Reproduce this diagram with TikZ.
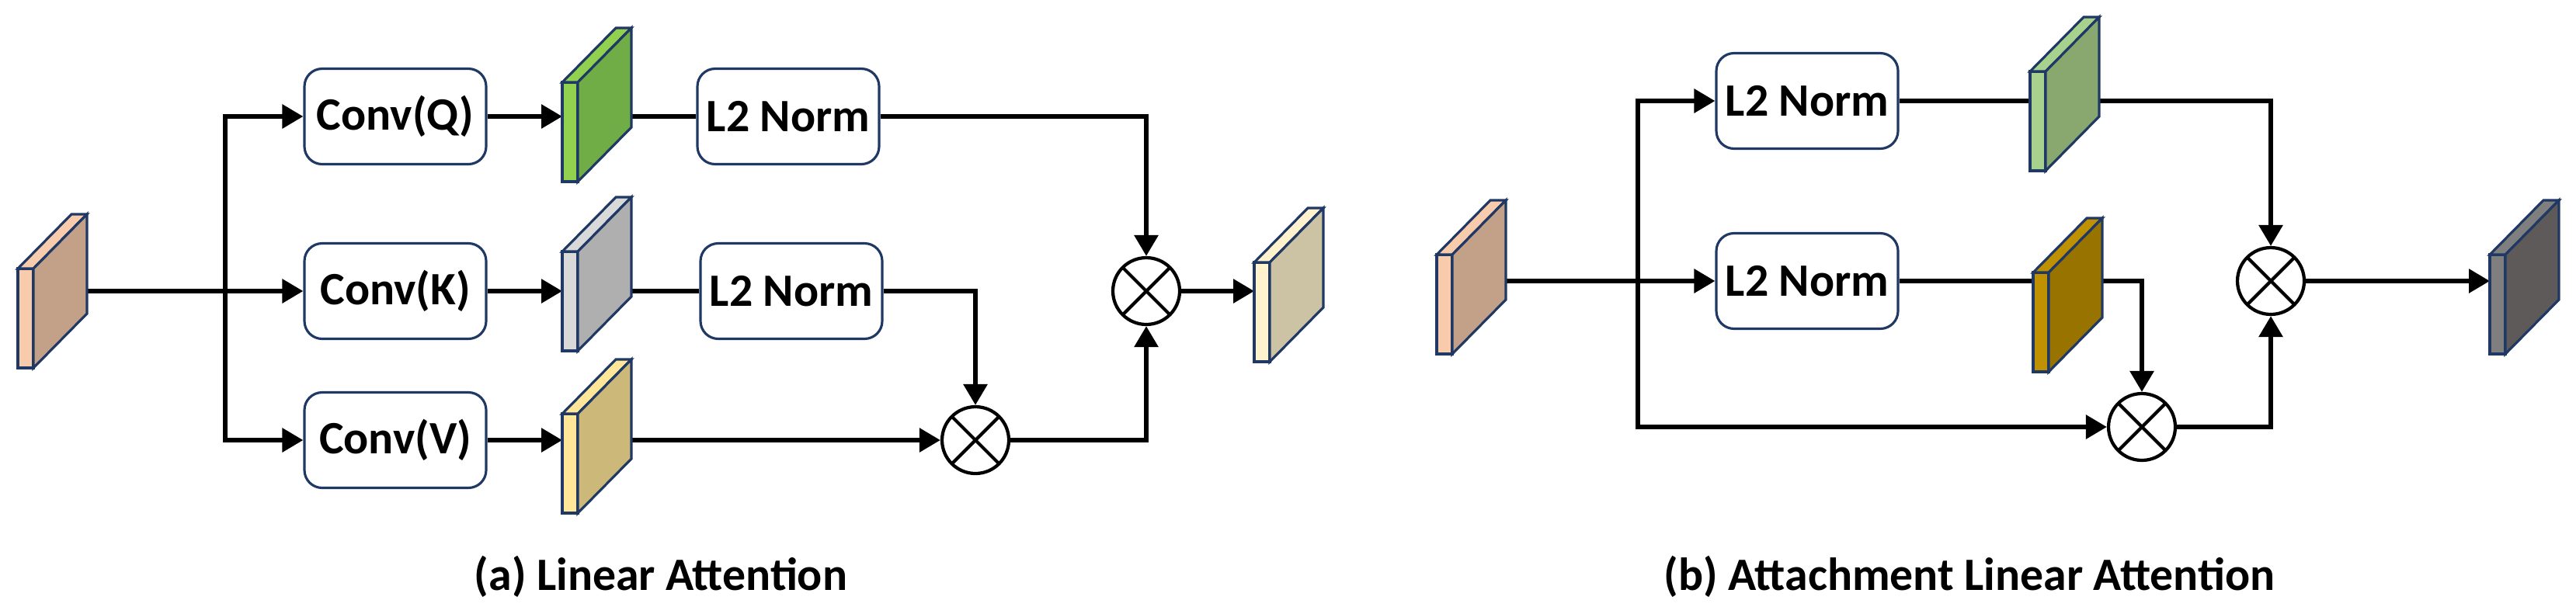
\documentclass[tikz,border=0pt]{standalone}
\usepackage{fontspec}
\setmainfont{Carlito}
\usepackage{tikz}
\usepackage{xcolor}
\usetikzlibrary{arrows.meta,positioning,calc,backgrounds}
\definecolor{navy}{HTML}{1F3864}
\definecolor{peachfr}{HTML}{F8CBAD}
\definecolor{peachsd}{HTML}{C3A088}
\definecolor{qfr}{HTML}{92D050}
\definecolor{qsd}{HTML}{70AD47}
\definecolor{kfr}{HTML}{D9D9D9}
\definecolor{ksd}{HTML}{AFAFAF}
\definecolor{vfr}{HTML}{FFE699}
\definecolor{vsd}{HTML}{CCB878}
\definecolor{ofr}{HTML}{FFF2CC}
\definecolor{osd}{HTML}{CCC2A4}
\definecolor{gfr}{HTML}{A9D18E}
\definecolor{gsd}{HTML}{88A870}
\definecolor{aufr}{HTML}{BF9000}
\definecolor{ausd}{HTML}{997300}
\definecolor{dkfr}{HTML}{7F7F7F}
\definecolor{dksd}{HTML}{5E5A5A}
\tikzset{
  opbox/.style={draw=navy,fill=white,line width=0.9pt,rounded corners=6.5pt,
                minimum width=2.34cm,minimum height=1.23cm,inner sep=2pt,
                font=\fontsize{17}{20}\selectfont\bfseries},
  slabfront/.style={draw=navy,line width=0.9pt,minimum width=0.2cm,
                    minimum height=1.28cm,inner sep=0pt,outer sep=0pt},
  slabface/.style={draw=navy,line width=0.9pt},
  mulnode/.style={circle,draw=black,fill=white,line width=1.2pt,
                  minimum size=0.86cm,inner sep=0pt,
                  path picture={\draw[line width=1.2pt]
                    (path picture bounding box.north west) -- (path picture bounding box.south east)
                    (path picture bounding box.north east) -- (path picture bounding box.south west);}},
  flowarr/.style={-{Triangle[length=0.27cm,width=0.30cm]},line width=1.7pt},
  flowline/.style={line width=1.7pt},
  caption/.style={font=\fontsize{17}{20}\selectfont\bfseries,anchor=base}
}
% feature map slab: name, position, front colour, side colour
\newcommand{\featmap}[4]{%
  \node[slabfront,fill=#3] (#1) at (#2) {};
  \draw[slabface,fill=#3] (#1.north west) -- ++(0.69,-0.70) -- ++(0.2,0) -- (#1.north east) -- cycle;
  \draw[slabface,fill=#4] (#1.north east) -- ++(0.69,-0.70) -- ++(0,1.28) -- (#1.south east) -- cycle;
}
\begin{document}
\begin{tikzpicture}[x=1cm,y=-1cm]
  \useasboundingbox (0,0) rectangle (33.17,7.90);
  % (a) linear attention
  \featmap{inA}{0.33,4.10}{peachfr}{peachsd}
  \node[opbox] (convq) at (5.09,1.50) {Conv(Q)};
  \node[opbox] (convk) at (5.09,3.75) {Conv(K)};
  \node[opbox] (convv) at (5.09,5.67) {Conv(V)};
  \featmap{q}{7.34,1.70}{qfr}{qsd}
  \featmap{k}{7.34,3.88}{kfr}{ksd}
  \featmap{v}{7.34,5.97}{vfr}{vsd}
  \node[opbox] (l2q) at (10.15,1.50) {L2 Norm};
  \node[opbox] (l2k) at (10.19,3.75) {L2 Norm};
  \node[mulnode] (mulkv) at (12.56,5.67) {};
  \node[mulnode] (mulA) at (14.76,3.75) {};
  \featmap{outA}{16.25,4.02}{ofr}{osd}
  \node[caption] (capA) at (8.51,7.60) {(a) Linear Attention};
  % (b) attachment linear attention
  \featmap{inB}{18.60,3.92}{peachfr}{peachsd}
  \node[opbox] (l2t) at (23.27,1.30) {L2 Norm};
  \node[opbox] (l2m) at (23.27,3.62) {L2 Norm};
  \featmap{g}{26.24,1.56}{gfr}{gsd}
  \featmap{au}{26.28,4.15}{aufr}{ausd}
  \node[mulnode] (mulga) at (27.58,5.50) {};
  \node[mulnode] (mulB) at (29.24,3.62) {};
  \featmap{outB}{32.16,3.92}{dkfr}{dksd}
  \node[caption] (capB) at (25.36,7.60) {(b) Attachment Linear Attention};
  \begin{scope}[on background layer]
    \coordinate (splitA) at (2.90,3.75);
    \draw[flowarr] (inA.east |- convk) -- (convk);
    \draw[flowarr] (splitA) |- (convq);
    \draw[flowarr] (splitA) |- (convv);
    \draw[flowarr] (convq) -- (convq -| q.west);
    \draw[flowarr] (convk) -- (convk -| k.west);
    \draw[flowarr] (convv) -- (convv -| v.west);
    \draw[flowline] (q.east |- l2q) -- (l2q);
    \draw[flowline] (k.east |- l2k) -- (l2k);
    \draw[flowarr] (v.east |- mulkv) -- (mulkv);
    \draw[flowarr] (l2q) -| (mulA);
    \draw[flowarr] (l2k) -| (mulkv);
    \draw[flowarr] (mulkv) -| (mulA);
    \draw[flowarr] (mulA) -- (mulA -| outA.west);
    \coordinate (splitB) at (21.09,3.62);
    \draw[flowarr] (inB.east |- l2m) -- (l2m);
    \draw[flowarr] (splitB) |- (l2t);
    \draw[flowarr] (splitB) |- (mulga);
    \draw[flowarr] (l2t) -| (mulB);
    \draw[flowarr] (l2m) -| (mulga);
    \draw[flowarr] (mulga) -| (mulB);
    \draw[flowarr] (mulB) -- (mulB -| outB.west);
  \end{scope}
\end{tikzpicture}
\end{document}
